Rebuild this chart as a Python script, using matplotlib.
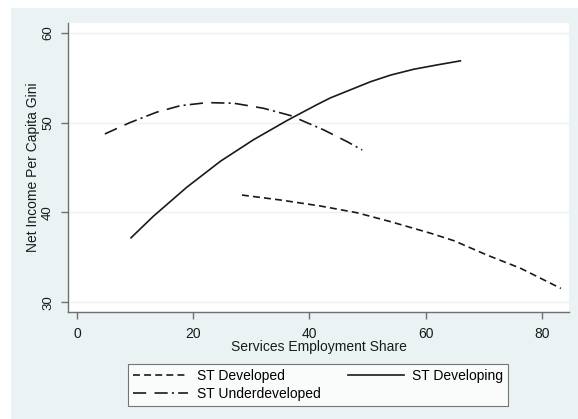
import matplotlib
matplotlib.use("Agg")
import matplotlib.pyplot as plt
from matplotlib.patches import Rectangle

plt.rcParams['font.family'] = ['Liberation Sans', 'DejaVu Sans']
plt.rcParams['lines.scale_dashes'] = False

# Data (fitted curves, points along each)
dev_x = [28.4, 35.0, 41.9, 48.2, 54.0, 60.9, 64.9, 70.6, 76.4, 83.3]
dev_y = [41.93, 41.38, 40.71, 39.96, 38.96, 37.67, 36.84, 35.24, 33.76, 31.53]

deving_x = [9.3, 13.2, 18.9, 24.7, 30.4, 36.2, 41.3, 43.6, 50.5, 54.0, 58.0, 62.0, 66.0]
deving_y = [37.17, 39.60, 42.80, 45.70, 48.10, 50.25, 52.00, 52.75, 54.55, 55.30, 55.95, 56.43, 56.88]

under_x = [4.8, 9.1, 13.7, 17.8, 22.4, 27.0, 32.1, 36.7, 42.5, 46.5, 49.1]
under_y = [48.74, 50.00, 51.16, 51.89, 52.23, 52.16, 51.60, 50.80, 49.18, 47.88, 46.95]

xticks = [0, 20, 40, 60, 80]
yticks = [30, 40, 50, 60]
labels = ["ST Developed", "ST Underdeveloped", "ST Developing"]

W, H = 578, 419
fig = plt.figure(figsize=(W/100, H/100), dpi=100)
fig.patch.set_facecolor('white')
bg = '#eaf2f3'
fig.patches.append(Rectangle((11/W, 0), 1 - 11/W, 1 - 8/H, transform=fig.transFigure,
                             facecolor=bg, edgecolor='none', zorder=-10))

ax = fig.add_axes([68/W, 1 - 312/H, (569 - 68)/W, (312 - 23)/H])
ax.set_facecolor('white')

lc = '#1a1a1a'
l1, = ax.plot(dev_x, dev_y, color=lc, lw=1.2, dashes=(5, 3))
l2, = ax.plot(under_x, under_y, color=lc, lw=1.2, dashes=(9.5, 6, 9.5, 3, 1.5, 3))
l3, = ax.plot(deving_x, deving_y, color=lc, lw=1.2)

ax.set_xlim(-1.55, 84.7)
ax.set_ylim(28.9, 61.1)
ax.set_xticks(xticks)
ax.set_yticks(yticks)
ax.set_yticklabels([str(t) for t in yticks], rotation=90, va='center')
ax.grid(axis='y', color=bg, lw=1.0)
ax.set_axisbelow(True)

for s in ['top', 'right']:
    ax.spines[s].set_visible(False)
for s in ['left', 'bottom']:
    ax.spines[s].set_color('#6e7072')
    ax.spines[s].set_linewidth(1.0)
ax.tick_params(colors='#6e7072', labelcolor='#1a1a1a', length=5, width=1.0, labelsize=10)
ax.tick_params(axis='x', pad=6)
ax.tick_params(axis='y', pad=5, labelsize=9.5)

ax.set_xlabel("Services Employment Share", fontsize=10, labelpad=-1, color='#1a1a1a')
ax.set_ylabel("Net Income Per Capita Gini", fontsize=10, color='#1a1a1a')
ax.yaxis.set_label_coords((40 - 68) / 501, 0.5)

leg = fig.legend([l1, l2, l3], labels, ncol=2, loc='upper center',
                 bbox_to_anchor=(318/W, 1 - 357/H), frameon=True, fancybox=False,
                 fontsize=10, handlelength=4, handletextpad=0.6, columnspacing=2.0,
                 borderpad=0.35, labelspacing=0.3)
leg.get_frame().set_edgecolor('#555555')
leg.get_frame().set_linewidth(0.8)

fig.savefig("out.png", dpi=100, facecolor=fig.get_facecolor())
